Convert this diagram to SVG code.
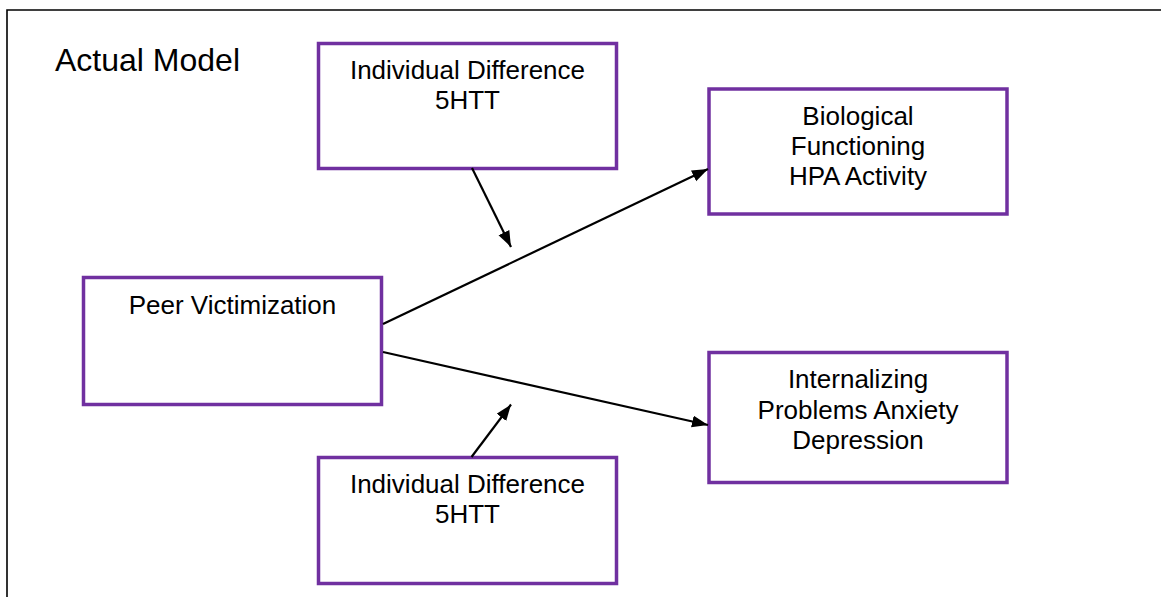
<svg xmlns="http://www.w3.org/2000/svg" width="1161" height="597" viewBox="0 0 1161 597">
<style>
.box{fill:#fff;stroke:#7030A0;stroke-width:3.5}
.t{font-family:"Liberation Sans",Arial,sans-serif;font-size:26px;fill:#000;text-anchor:middle}
.title{font-family:"Liberation Sans",Arial,sans-serif;font-size:32px;fill:#000}
.c{stroke:#000;stroke-width:2.2;fill:none}
</style>
<defs>
<marker id="ah" markerUnits="userSpaceOnUse" markerWidth="18" markerHeight="14" refX="16" refY="6" orient="auto">
<path d="M0,0 L16,6 L0,12 z" fill="#000"/>
</marker>
</defs>
<rect width="1161" height="597" fill="#fff"/>
<path d="M7,597 V10 H1161" fill="none" stroke="#000" stroke-width="1.6"/>
<text class="title" x="55" y="71">Actual Model</text>
<g id="top5htt">
<rect class="box" x="318.5" y="43.5" width="298" height="125"/>
<text class="t" x="467.5" y="79">Individual Difference</text>
<text class="t" x="467.5" y="109">5HTT</text>
</g>
<g id="bio">
<rect class="box" x="709" y="89" width="298" height="125"/>
<text class="t" x="858" y="125">Biological</text>
<text class="t" x="858" y="155">Functioning</text>
<text class="t" x="858" y="185">HPA Activity</text>
</g>
<g id="peer">
<rect class="box" x="83.5" y="277.5" width="298" height="127"/>
<text class="t" x="232.5" y="314">Peer Victimization</text>
</g>
<g id="intern">
<rect class="box" x="709" y="352.5" width="298" height="130"/>
<text class="t" x="858" y="388">Internalizing</text>
<text class="t" x="858" y="419">Problems Anxiety</text>
<text class="t" x="858" y="449">Depression</text>
</g>
<g id="bot5htt">
<rect class="box" x="318.5" y="457.5" width="298" height="126"/>
<text class="t" x="467.5" y="493">Individual Difference</text>
<text class="t" x="467.5" y="523">5HTT</text>
</g>
<g id="connectors">
<line class="c" x1="472" y1="168" x2="511" y2="247" marker-end="url(#ah)"/>
<line class="c" x1="383" y1="324" x2="708" y2="169" marker-end="url(#ah)"/>
<line class="c" x1="383" y1="352" x2="708" y2="425" marker-end="url(#ah)"/>
<line class="c" x1="471.5" y1="457" x2="511" y2="404.5" marker-end="url(#ah)"/>
</g>
</svg>
